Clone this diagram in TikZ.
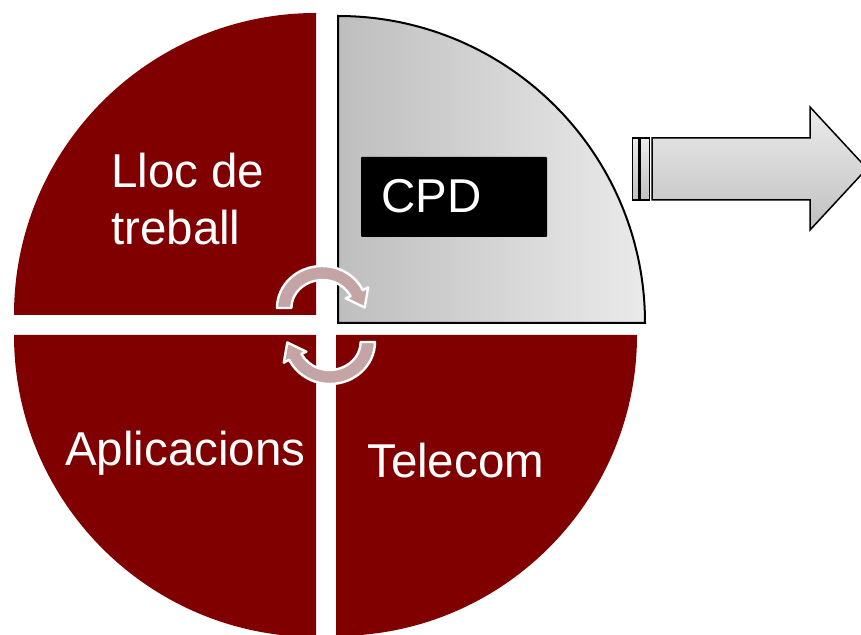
\documentclass[tikz,border=0pt]{standalone}
\usepackage{fontspec}
\setmainfont{Liberation Sans}
\definecolor{maroon}{RGB}{128,0,0}
\definecolor{cpdleft}{RGB}{190,190,190}
\definecolor{cpdright}{RGB}{234,234,234}
\definecolor{arrtop}{RGB}{236,236,236}
\definecolor{arrbot}{RGB}{192,192,192}
\definecolor{cyclefill}{RGB}{196,164,164}
\tikzset{
  quarter/.style={fill=maroon},
  lbl/.style={inner sep=0pt, font=\fontsize{47.5}{57}\selectfont, anchor=base west},
  cyclearrow/.style={fill=cyclefill, draw=white, line width=2.4pt, line join=round},
  bigarrow/.style={draw=black, line width=1.5pt, top color=arrtop, bottom color=arrbot, line join=miter}
}
\begin{document}
\begin{tikzpicture}[x=1pt,y=1pt]
\useasboundingbox (0,0) rectangle (861,634);
\clip (0,0) rectangle (861,634);
% quadrants
\fill[quarter] (316,319) -- (316,621) arc[start angle=90,end angle=180,radius=302] -- cycle;
\fill[quarter] (316,299) -- (14,299) arc[start angle=180,end angle=270,radius=302] -- cycle;
\fill[quarter] (336,299) -- (336,-2) arc[start angle=270,end angle=360,radius=301] -- cycle;
\path[draw=black, line width=2pt, left color=cpdleft, right color=cpdright]
  (338,311) -- (645,311) arc[start angle=0,end angle=90,radius=307] -- cycle;
% CPD box
\node[fill=black, minimum width=186pt, minimum height=80pt, inner sep=0pt, rounded corners=1pt] (cpdbox) at (454,437) {};
\node[lbl, text=white] (cpd) at (381,421) {CPD};
% labels
\node[lbl, text=white] (lloc) at (111,446) {Lloc de};
\node[lbl, text=white] (treball) at (111,389) {treball};
\node[lbl, text=white] (apl) at (65,168) {Aplicacions};
\node[lbl, text=white] (tel) at (367,156) {Telecom};
% cycle arrows
\begin{scope}[shift={(322,326)}]
  \path[cyclearrow] (-45,0) arc[start angle=180,end angle=25,x radius=45,y radius=42]
    -- (46.2,20.7) -- (42.7,0.5) -- (23.6,9.7) -- (28.5,11.8)
    arc[start angle=25,end angle=180,x radius=31,y radius=28] -- cycle;
\end{scope}
\begin{scope}[rotate around={180:(326,309)}]
 \begin{scope}[shift={(322,326)}]
  \path[cyclearrow] (-45,0) arc[start angle=180,end angle=25,x radius=45,y radius=42]
    -- (46.2,20.7) -- (42.7,0.5) -- (23.6,9.7) -- (28.5,11.8)
    arc[start angle=25,end angle=180,x radius=31,y radius=28] -- cycle;
 \end{scope}
\end{scope}
% big arrow
\path[bigarrow] (632.5,434) rectangle (638.5,496);
\path[bigarrow] (640,434) rectangle (649.5,496);
\path[bigarrow] (652,434) -- (652,496) -- (810,496) -- (810,527) -- (867,465.5) -- (810,404) -- (810,434) -- cycle;
\end{tikzpicture}
\end{document}
